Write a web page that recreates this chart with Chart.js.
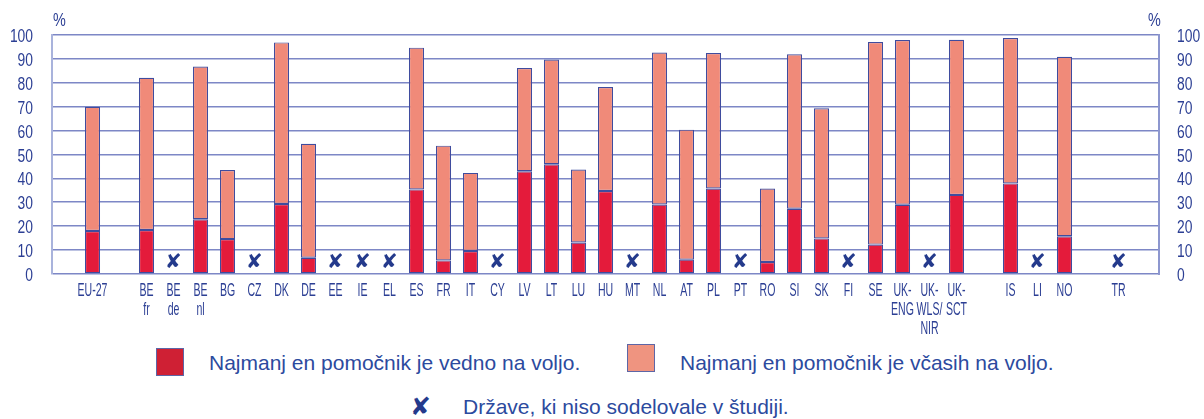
<!DOCTYPE html>
<html>
<head>
<meta charset="utf-8">
<script src="https://cdn.jsdelivr.net/npm/chart.js@4.4.1/dist/chart.umd.min.js"></script>
<style>
  html, body { margin: 0; padding: 0; background: #ffffff; }
  #wrap { position: relative; width: 1204px; height: 419px; overflow: hidden; }
  #chartBox { position: absolute; left: 0; top: 0; width: 1204px; height: 340px; }
  .lg { position: absolute; font-family: "Liberation Sans", Arial, sans-serif; font-size: 21px; color: #2c4a9e; white-space: nowrap; line-height: 24px; }
  .box { position: absolute; width: 26px; height: 26px; border: 1px solid #5d66a6; }
  .xmark { position: absolute; font-family: "DejaVu Sans", sans-serif; font-size: 25px; color: #243a8c; line-height: 28px; }
</style>
</head>
<body>
<div id="wrap">
  <div id="chartBox"><canvas id="c"></canvas></div>
  <div class="box" style="left:156px; top:348px; background:#cf2034;"></div>
  <div class="lg" style="left:209px; top:351px;">Najmanj en pomočnik je vedno na voljo.</div>
  <div class="box" style="left:627px; top:344px; background:#ef9480;"></div>
  <div class="lg" style="left:680px; top:351px;">Najmanj en pomočnik je včasih na voljo.</div>
  <div class="xmark" style="left:410px; top:393px;">✘</div>
  <div class="lg" style="left:463px; top:395px;">Države, ki niso sodelovale v študiji.</div>
</div>
<script>
// Categories (empty strings are spacer slots as in the original figure)
const categories = ['', 'EU-27', '', ['BE','fr'], ['BE','de'], ['BE','nl'], 'BG', 'CZ', 'DK', 'DE',
  'EE', 'IE', 'EL', 'ES', 'FR', 'IT', 'CY', 'LV', 'LT', 'LU', 'HU', 'MT', 'NL', 'AT', 'PL', 'PT',
  'RO', 'SI', 'SK', 'FI', 'SE', ['UK-','ENG'], ['UK-','WLS/','NIR'], ['UK-','SCT'], '', 'IS', 'LI',
  'NO', '', 'TR', ''];

// "Najmanj en pomočnik je vedno na voljo." (%)
const alwaysAvailable = [null, 18.0, null, 18.4, null, 22.9, 14.6, null, 29.3, 6.8,
  null, null, null, 35.4, 5.7, 9.6, null, 43.0, 45.9, 13.2, 34.7, null, 29.1, 6.0, 35.8, null,
  5.0, 27.3, 14.9, null, 12.3, 29.0, null, 33.1, null, 37.9, null,
  15.8, null, null, null];

// "Najmanj en pomočnik je včasih na voljo." (%)
const sometimesAvailable = [null, 52.0, null, 63.7, null, 63.9, 28.9, null, 67.6, 47.7,
  null, null, null, 59.3, 48.0, 32.7, null, 43.2, 43.8, 30.5, 43.5, null, 63.6, 54.4, 56.7, null,
  30.8, 64.6, 54.4, null, 84.8, 68.9, null, 64.9, null, 60.8, null,
  75.1, null, null, null];

// Countries that did not take part in the study (marked with ✘)
const notInStudy = ['BE de', 'CZ', 'EE', 'IE', 'EL', 'CY', 'MT', 'PT', 'FI', 'UK-WLS/NIR', 'LI', 'TR'];

// Y-axis ticks
const yTicks = [0, 10, 20, 30, 40, 50, 60, 70, 80, 90, 100];

const TEXT = '#2c3f94';
const FONT = '"Liberation Sans", Arial, sans-serif';
const catKey = c => Array.isArray(c) ? (c[0].endsWith('-') ? c.join('') : c.join(' ')) : c;

function drawNarrow(ctx, text, x, y, sx, align) {
  ctx.save();
  ctx.translate(x, y);
  ctx.scale(sx, 1);
  ctx.textAlign = align;
  ctx.fillText(text, 0, 0);
  ctx.restore();
}

// Draws the condensed tick labels (positions taken from the chart's scales)
const labelsPlugin = {
  id: 'condensedLabels',
  afterDraw(chart) {
    const ctx = chart.ctx;
    const xs = chart.scales.x, ys = chart.scales.y, ys2 = chart.scales.y2;
    const area = chart.chartArea;
    ctx.save();
    ctx.fillStyle = TEXT;
    ctx.textBaseline = 'alphabetic';
    // x labels
    ctx.font = '18.5px ' + FONT;
    categories.forEach((c, i) => {
      const lines = Array.isArray(c) ? c : [c];
      const x = xs.getPixelForValue(i);
      lines.forEach((t, k) => drawNarrow(ctx, t, x, area.bottom + 22 + k * 19, 0.57, 'center'));
    });
    // y labels (left and right)
    ctx.font = '18px ' + FONT;
    yTicks.forEach(v => {
      drawNarrow(ctx, String(v), ys.left + ys.width - 19, ys.getPixelForValue(v) + 7, 0.77, 'right');
      drawNarrow(ctx, String(v), ys2.left + 18, ys2.getPixelForValue(v) + 7, 0.77, 'left');
    });
    // % unit labels
    drawNarrow(ctx, '%', area.left + 1, 26, 0.8, 'left');
    drawNarrow(ctx, '%', area.right - 11, 26, 0.8, 'left');
    // not-in-study markers
    ctx.font = '20px "DejaVu Sans", sans-serif';
    ctx.fillStyle = '#243a8c';
    ctx.textBaseline = 'middle';
    ctx.textAlign = 'center';
    categories.forEach((c, i) => {
      if (notInStudy.includes(catKey(c))) {
        ctx.fillText('✘', xs.getPixelForValue(i), ys.getPixelForValue(4.7));
      }
    });
    ctx.restore();
  }
};

new Chart(document.getElementById('c'), {
  type: 'bar',
  data: {
    labels: categories,
    datasets: [
      { label: 'Najmanj en pomočnik je vedno na voljo.', data: alwaysAvailable,
        backgroundColor: '#e41b3b', borderColor: '#3f4c9e', borderWidth: 1.2, borderSkipped: false },
      { label: 'Najmanj en pomočnik je včasih na voljo.', data: sometimesAvailable,
        backgroundColor: '#f08a79', borderColor: '#3f4c9e', borderWidth: 1.2, borderSkipped: false }
    ]
  },
  options: {
    responsive: true,
    maintainAspectRatio: false,
    animation: false,
    layout: { padding: { top: 35, left: 0, right: 0, bottom: 0 } },
    plugins: { legend: { display: false }, tooltip: { enabled: false } },
    datasets: { bar: { barPercentage: 0.56, categoryPercentage: 1.0 } },
    scales: {
      x: {
        stacked: true,
        grid: { display: false, drawTicks: false },
        border: { display: false },
        ticks: { display: false, autoSkip: false },
        afterFit(s) { s.height = 66; }
      },
      y: {
        stacked: true, min: 0, max: 100,
        afterBuildTicks(s) { s.ticks = yTicks.map(v => ({ value: v })); },
        grid: { color: '#7d87c6', lineWidth: 1.6, drawTicks: false },
        border: { display: true, color: '#a9b3dc', width: 2 },
        ticks: { display: false },
        afterFit(s) { s.width = 52; }
      },
      y2: {
        position: 'right', min: 0, max: 100,
        afterBuildTicks(s) { s.ticks = yTicks.map(v => ({ value: v })); },
        grid: { display: false, drawTicks: false },
        border: { display: true, color: '#8d97cf', width: 2 },
        ticks: { display: false },
        afterFit(s) { s.width = 45; }
      }
    }
  },
  plugins: [labelsPlugin]
});
</script>
</body>
</html>
